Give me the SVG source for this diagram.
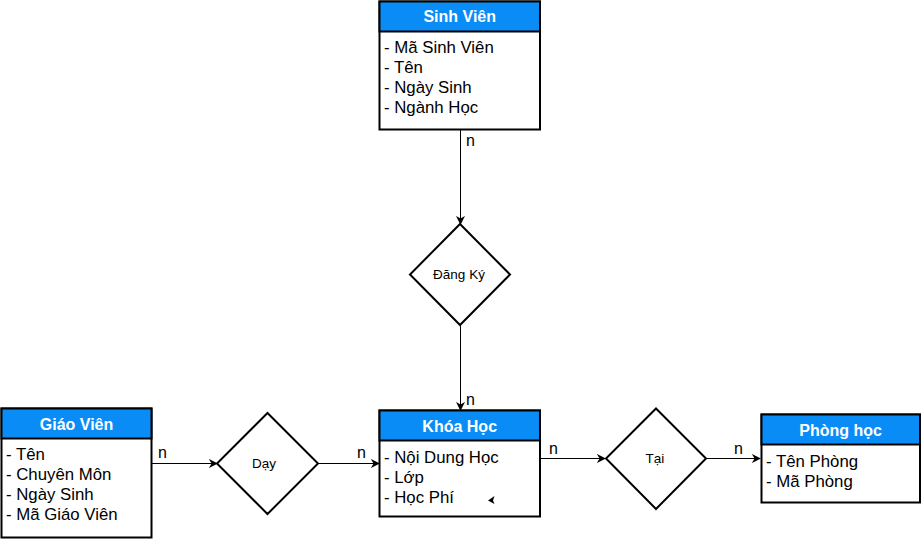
<svg xmlns="http://www.w3.org/2000/svg" width="922" height="540" viewBox="0 0 922 540">
<style>
.box{fill:#fff;stroke:#000;stroke-width:2}
.hdr{fill:#0a8cf7;stroke:#000;stroke-width:2}
.ht{font-family:"Liberation Sans",Arial,sans-serif;font-size:16px;font-weight:bold;fill:#fff;text-anchor:middle}
.at{font-family:"Liberation Sans",Arial,sans-serif;font-size:16.8px;fill:#000}
.dia{fill:#fff;stroke:#000;stroke-width:2}
.dt{font-family:"Liberation Sans",Arial,sans-serif;font-size:13.5px;fill:#000;text-anchor:middle}
.ln{stroke:#000;stroke-width:1;fill:none;marker-end:url(#arr)}
.lb{font-family:"Liberation Sans",Arial,sans-serif;font-size:16px;fill:#000}
</style>
<defs>
<marker id="arr" viewBox="0 0 10 10" refX="9" refY="5" markerWidth="9" markerHeight="9" markerUnits="userSpaceOnUse" orient="auto">
<path d="M0,0 L10,5 L0,10 L3,5 z" fill="#000"/>
</marker>
</defs>
<rect width="922" height="540" fill="#fff"/>
<g id="connectors">
<line class="ln" x1="460.5" y1="130" x2="460.5" y2="224"/>
<line class="ln" x1="460.5" y1="325" x2="460.5" y2="410"/>
<line class="ln" x1="152" y1="463.5" x2="217" y2="463.5"/>
<line class="ln" x1="318" y1="463.5" x2="379" y2="463.5"/>
<line class="ln" x1="540" y1="458.5" x2="605" y2="458.5"/>
<line class="ln" x1="706" y1="458.5" x2="760" y2="458.5"/>
<text class="lb" x="466" y="146">n</text>
<text class="lb" x="466" y="405">n</text>
<text class="lb" x="158" y="458">n</text>
<text class="lb" x="357" y="458">n</text>
<text class="lb" x="549" y="454">n</text>
<text class="lb" x="734" y="454">n</text>
</g>
<g id="sinhvien">
<rect class="box" x="379.5" y="1.5" width="160.5" height="128"/>
<rect class="hdr" x="379.5" y="1.5" width="160.5" height="30"/>
<text class="ht" x="459.7" y="22">Sinh Viên</text>
<text class="at" x="384" y="53">- Mã Sinh Viên</text>
<text class="at" x="384" y="73">- Tên</text>
<text class="at" x="384" y="93">- Ngày Sinh</text>
<text class="at" x="384" y="113">- Ngành Học</text>
</g>
<g id="dangky">
<polygon class="dia" points="460,224 510,274.5 460,325 410,274.5"/>
<text class="dt" x="459" y="279">Đăng Ký</text>
</g>
<g id="khoahoc">
<rect class="box" x="379.5" y="410.5" width="160.5" height="106"/>
<rect class="hdr" x="379.5" y="410.5" width="160.5" height="30"/>
<text class="ht" x="459.7" y="432">Khóa Học</text>
<text class="at" x="384" y="463">- Nội Dung Học</text>
<text class="at" x="384" y="483">- Lớp</text>
<text class="at" x="384" y="503">- Học Phí</text>
<polygon points="488,500.5 494.5,496 493,500.5 494.5,504" fill="#000"/>
</g>
<g id="giaovien">
<rect class="box" x="1.5" y="408.5" width="150" height="129"/>
<rect class="hdr" x="1.5" y="408.5" width="150" height="30"/>
<text class="ht" x="76.5" y="430">Giáo Viên</text>
<text class="at" x="6" y="460">- Tên</text>
<text class="at" x="6" y="480">- Chuyên Môn</text>
<text class="at" x="6" y="500">- Ngày Sinh</text>
<text class="at" x="6" y="520">- Mã Giáo Viên</text>
</g>
<g id="day">
<polygon class="dia" points="267.5,413 318,463.5 267.5,514 217,463.5"/>
<text class="dt" x="264" y="468">Dạy</text>
</g>
<g id="tai">
<polygon class="dia" points="656,408.5 706,458.5 656,509 606,458.5"/>
<text class="dt" x="655" y="463">Tại</text>
</g>
<g id="phonghoc">
<rect class="box" x="761.5" y="414.5" width="158.5" height="88"/>
<rect class="hdr" x="761.5" y="414.5" width="158.5" height="30"/>
<text class="ht" x="840.7" y="436">Phòng học</text>
<text class="at" x="766" y="467">- Tên Phòng</text>
<text class="at" x="766" y="487">- Mã Phòng</text>
</g>
</svg>
